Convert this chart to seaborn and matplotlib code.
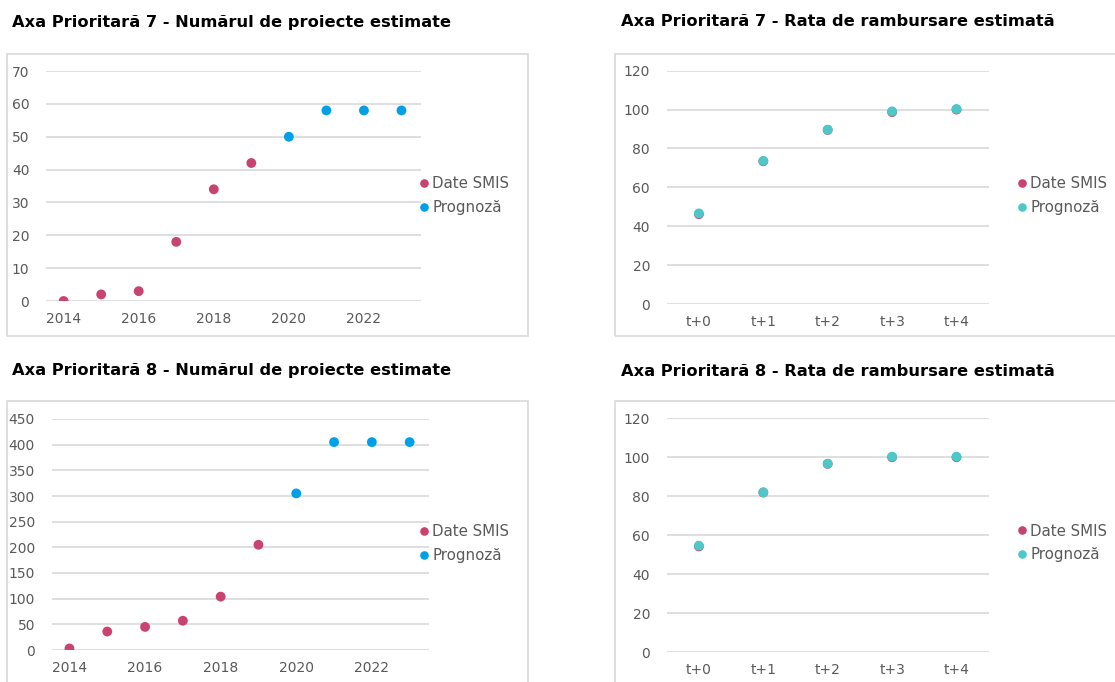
import matplotlib
matplotlib.use("Agg")
import matplotlib.pyplot as plt
from matplotlib.patches import Rectangle
import seaborn as sns
import pandas as pd

# Series data
years = [2014, 2015, 2016, 2017, 2018, 2019, 2020, 2021, 2022, 2023]
ap7_projects = [0, 2, 3, 18, 34, 42, 50, 58, 58, 58]
ap8_projects = [3, 36, 45, 57, 104, 205, 305, 405, 405, 405]
ap_source = ["Date SMIS"] * 6 + ["Prognoză"] * 4

periods = ["t+0", "t+1", "t+2", "t+3", "t+4"]
ap7_rate_smis = [46.2, 73.4, 89.5, 98.7, 100.0]
ap7_rate_forecast = [46.6, 73.6, 89.7, 99.1, 100.3]
ap8_rate_smis = [54.2, 81.9, 96.6, 100.0, 100.0]
ap8_rate_forecast = [54.6, 82.0, 96.7, 100.3, 100.3]

titles = [
    "Axa Prioritară 7 - Numărul de proiecte estimate",
    "Axa Prioritară 7 - Rata de rambursare estimată",
    "Axa Prioritară 8 - Numărul de proiecte estimate",
    "Axa Prioritară 8 - Rata de rambursare estimată",
]

PINK = "#C8436E"
BLUE = "#00A0E6"
TEAL = "#4DC8C8"
GRID = "#D9D9D9"
TXT = "#595959"

sns.set_style("white")
plt.rcParams["font.family"] = ["DejaVu Sans"]

W, H = 1115, 682
fig = plt.figure(figsize=(W / 100, H / 100), dpi=100)


def fx(px):
    return px / W


def fy(py):
    return 1 - py / H


def add_axes(x0, x1, y_top, y_bot):
    return fig.add_axes([fx(x0), fy(y_bot), fx(x1 - x0), (y_bot - y_top) / H])


def frame(x0, y0, x1, y1):
    fig.patches.append(Rectangle((fx(x0), fy(y1)), fx(x1 - x0), (y1 - y0) / H,
                                 transform=fig.transFigure, fill=False,
                                 edgecolor=GRID, linewidth=1.2, zorder=0))


def style(ax, yticks):
    ax.set_yticks(yticks)
    ax.set_ylim(yticks[0], yticks[-1])
    ax.yaxis.grid(True, color=GRID, linewidth=1.2)
    ax.xaxis.grid(False)
    ax.set_axisbelow(True)
    for s in ax.spines.values():
        s.set_visible(False)
    ax.tick_params(axis="both", length=0, labelsize=10, colors=TXT)
    ax.tick_params(axis="y", pad=12)
    ax.tick_params(axis="x", pad=8)
    ax.set_xlabel("")
    ax.set_ylabel("")
    ax.set_facecolor("none")


def legend(ax, handles, labels, x, y):
    ax.legend(handles, labels, loc="center left",
              bbox_to_anchor=(fx(x), fy(y)), bbox_transform=fig.transFigure,
              frameon=False, fontsize=10.8, handlelength=0.6,
              handletextpad=0.3, labelspacing=0.58, borderpad=0,
              labelcolor=TXT, markerscale=1.0)


# Frames around each chart
frame(7, 54, 528, 336)
frame(615, 54, 1125, 336)
frame(7, 401, 528, 692)
frame(615, 401, 1125, 692)

# Titles
for (x, y), t in zip([(12, 22), (621, 22), (12, 371), (621, 371)], titles):
    fig.text(fx(x), fy(y), t, fontsize=11.7, fontweight="bold",
             color="#000000", va="center", ha="left")

MS = 50

# AP7 - projects
ax1 = add_axes(46, 421, 71, 301)
df1 = pd.DataFrame({"an": years, "val": ap7_projects, "sursa": ap_source})
sns.scatterplot(data=df1, x="an", y="val", hue="sursa", ax=ax1,
                palette={"Date SMIS": PINK, "Prognoză": BLUE},
                s=MS, linewidth=0, legend=False)
style(ax1, [0, 10, 20, 30, 40, 50, 60, 70])
ax1.set_xlim(2013.53, 2023.52)
ax1.set_xticks([2014, 2016, 2018, 2020, 2022])

# AP8 - projects
ax3 = add_axes(51.7, 429.3, 419, 650)
df3 = pd.DataFrame({"an": years, "val": ap8_projects, "sursa": ap_source})
sns.scatterplot(data=df3, x="an", y="val", hue="sursa", ax=ax3,
                palette={"Date SMIS": PINK, "Prognoză": BLUE},
                s=MS, linewidth=0, legend=False)
style(ax3, list(range(0, 451, 50)))
ax3.set_xlim(2013.53, 2023.52)
ax3.set_xticks([2014, 2016, 2018, 2020, 2022])


def rate_panel(x0, x1, yt, yb, smis, fc):
    ax = add_axes(x0, x1, yt, yb)
    df = pd.DataFrame({
        "t": periods * 2,
        "val": smis + fc,
        "sursa": ["Date SMIS"] * len(periods) + ["Prognoză"] * len(periods),
    })
    sns.scatterplot(data=df, x="t", y="val", hue="sursa", ax=ax,
                    palette={"Date SMIS": PINK, "Prognoză": TEAL},
                    s=MS, linewidth=0, legend=False)
    style(ax, [0, 20, 40, 60, 80, 100, 120])
    ax.set_xlim(-0.5, len(periods) - 0.5)
    return ax


ax2 = rate_panel(666.7, 988.7, 70.7, 304, ap7_rate_smis, ap7_rate_forecast)
ax4 = rate_panel(666.7, 988.7, 418.3, 652, ap8_rate_smis, ap8_rate_forecast)


def handles(c2):
    return [plt.Line2D([], [], marker="o", linestyle="", markersize=6.2,
                       markerfacecolor=c, markeredgewidth=0)
            for c in (PINK, c2)]


labels = ["Date SMIS", "Prognoză"]
legend(ax1, handles(BLUE), labels, 411.5, 195.5)
legend(ax3, handles(BLUE), labels, 411.5, 543.5)
legend(ax2, handles(TEAL), labels, 1009.5, 195.5)
legend(ax4, handles(TEAL), labels, 1009.5, 543.0)

fig.savefig("out.png", dpi=100, facecolor="white")
